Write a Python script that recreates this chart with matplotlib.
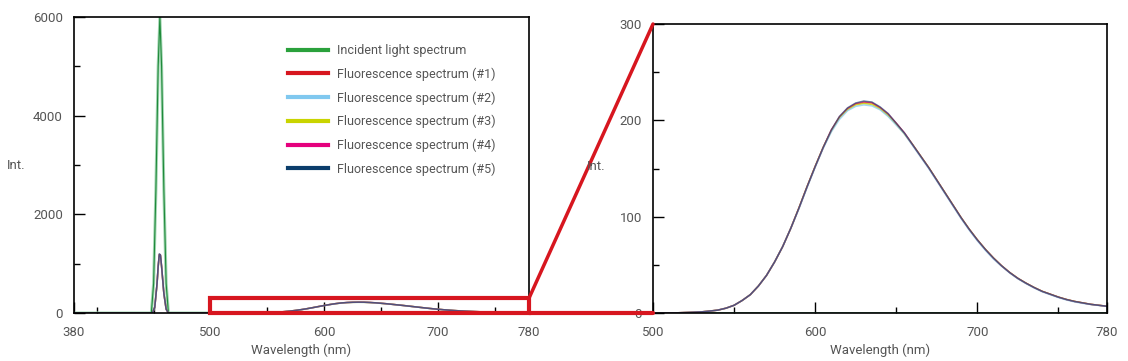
import matplotlib.pyplot as plt
from matplotlib.patches import Rectangle, ConnectionPatch
from matplotlib.ticker import MultipleLocator

plt.rcParams['font.family'] = ['Roboto', 'DejaVu Sans']

# Daten
wl_inc = [380, 440, 448, 450, 452, 454, 455.5, 457, 459, 461, 463, 470, 780]
inc = [0, 0, 0, 600, 2500, 5000, 6000, 5000, 2500, 600, 0, 0, 0]

wl = [380, 440, 447, 449, 451, 453, 454, 455, 456, 457, 459, 461, 463, 470,
      500, 505, 510, 515, 520, 525, 530, 535, 540, 545,
      550, 555, 560, 565, 570, 575, 580, 585, 590, 595,
      600, 605, 610, 615, 620, 625, 630, 635, 640, 645,
      650, 655, 660, 665, 670, 675, 680, 685, 690, 695,
      700, 705, 710, 715, 720, 725, 730, 735, 740, 745,
      750, 755, 760, 765, 770, 775, 780]

fl1 = [0, 0, 0, 0, 115, 590, 940, 1180, 1170, 940, 395, 78, 0, 0,
       0, 0, 0, 0.2, 0.5, 0.8, 1.2, 2, 3, 5,
       8, 13, 19, 28, 39, 53, 69, 88, 109, 131,
       152, 172, 190, 203, 212, 217, 218.5, 218, 213, 206,
       197, 187, 175, 163, 151, 138, 125, 112, 99, 87,
       76, 66, 57, 49, 42, 36, 31, 26.5, 22.5, 19.5,
       16.5, 14, 12, 10.5, 9, 8, 7]
fl2 = [0, 0, 0, 0, 110, 580, 930, 1170, 1160, 930, 390, 75, 0, 0,
       0, 0, 0, 0.2, 0.5, 0.8, 1.2, 2, 3, 5,
       8, 13, 19, 28, 39, 53, 69, 88, 108, 130,
       151, 171, 188, 201, 210, 214.5, 216, 215, 211, 204,
       195, 186, 174, 162, 150, 137, 124, 111, 98, 86,
       75, 65, 56, 48.5, 41.5, 35.5, 30.5, 26, 22, 19,
       16, 13.5, 11.5, 10, 8.8, 7.8, 6.8]
fl3 = [0, 0, 0, 0, 112, 585, 935, 1175, 1165, 935, 392, 76, 0, 0,
       0, 0, 0, 0.2, 0.5, 0.8, 1.2, 2, 3, 5,
       8, 13, 19, 28, 39, 53, 69, 88, 109, 131,
       152, 172, 189, 203, 211, 216, 217.5, 216.5, 212, 205,
       196, 186, 175, 163, 151, 138, 125, 112, 99, 87,
       76, 66, 57, 49, 42, 36, 31, 26.5, 22.5, 19.5,
       16.5, 14, 12, 10.5, 9, 8, 7]
fl4 = [0, 0, 0, 0, 118, 595, 945, 1190, 1175, 945, 398, 79, 0, 0,
       0, 0, 0, 0.2, 0.5, 0.8, 1.2, 2, 3, 5,
       8, 13, 19, 28, 39, 53, 69, 88, 109, 131,
       152, 172, 190, 204, 212.5, 217.5, 219.5, 218.5, 213.5, 207,
       197, 187, 175, 163, 151, 138, 125, 112, 99, 87,
       76, 66, 57, 49, 42, 36, 31, 26.5, 22.5, 19.5,
       16.5, 14, 12, 10.5, 9, 8, 7]
fl5 = [0, 0, 0, 0, 120, 600, 950, 1200, 1180, 950, 400, 80, 0, 0,
       0, 0, 0, 0.2, 0.5, 0.8, 1.2, 2, 3, 5,
       8, 13, 19, 28, 39, 53, 69, 88, 109, 131,
       152, 172, 190, 204, 213, 218, 220, 219, 214, 207,
       197, 187, 175, 163, 151, 138, 125, 112, 99, 87,
       76, 66, 57, 49, 42, 36, 31, 26.5, 22.5, 19.5,
       16.5, 14, 12, 10.5, 9, 8, 7]

labels = ["Fluorescence spectrum (#1)", "Fluorescence spectrum (#2)",
          "Fluorescence spectrum (#3)", "Fluorescence spectrum (#4)",
          "Fluorescence spectrum (#5)"]
colors = ['#d7161f', '#80c8ef', '#c9d400', '#e5007d', '#0b3d6b']
series = [fl1, fl2, fl3, fl4, fl5]
# Zeichenreihenfolge und Deckkraft, damit die Mischfarbe wie im Original wirkt
order = [0, 2, 1, 3, 4]
alphas = [0.7, 0.7, 0.8, 0.45, 0.6]

grey = '#555555'
fig = plt.figure(figsize=(11.28, 3.61), dpi=100)
ax1 = fig.add_axes([74 / 1128, 48 / 361, 455 / 1128, 296 / 361])
ax2 = fig.add_axes([653 / 1128, 48 / 361, 454 / 1128, 289 / 361])


def style(ax):
    ax.tick_params(which='both', direction='in', colors='black', labelcolor=grey,
                   labelsize=9.5, pad=8)
    ax.tick_params(which='major', length=8, width=1)
    ax.tick_params(which='minor', length=4.5, width=1)
    ax.tick_params(axis='x', pad=9)
    for s in ax.spines.values():
        s.set_linewidth(1.2)


def draw_fl(ax):
    for i in order:
        ax.plot(wl, series[i], color=colors[i], lw=1.1, alpha=alphas[i])


# linkes Diagramm
ax1.plot(wl_inc, inc, color='#a3d6b3', lw=2.2)
ax1.plot(wl_inc, inc, color='#1f8a3a', lw=0.8)
draw_fl(ax1)
ax1.set_xlim(380, 780)
ax1.set_ylim(0, 6000)
ax1.set_xticks([380, 500, 600, 700, 780])
ax1.set_xticks([400, 450, 550, 650, 750], minor=True)
ax1.yaxis.set_major_locator(MultipleLocator(2000))
ax1.yaxis.set_minor_locator(MultipleLocator(1000))
style(ax1)
ax1.set_xlabel("Wavelength (nm)", color=grey, fontsize=9.5, labelpad=4)

# Legende mit eigenen Handles
hl = [plt.Line2D([], [], color='#2aa13c', lw=3)]
hl += [plt.Line2D([], [], color=c, lw=3) for c in colors]
ax1.legend(hl, ["Incident light spectrum"] + labels, loc='upper left',
           bbox_to_anchor=(0.46, 0.925), frameon=False, fontsize=9,
           labelcolor=grey, handlelength=3.2, handletextpad=0.7,
           labelspacing=0.82, borderaxespad=0)

# rechtes Diagramm (Ausschnitt)
ax2.plot(wl_inc, inc, color='#3aa060', lw=1)
draw_fl(ax2)
ax2.set_xlim(500, 780)
ax2.set_ylim(0, 300)
ax2.set_xticks([500, 600, 700, 780])
ax2.set_xticks([550, 650, 750], minor=True)
ax2.yaxis.set_major_locator(MultipleLocator(100))
ax2.yaxis.set_minor_locator(MultipleLocator(50))
style(ax2)
ax2.set_xlabel("Wavelength (nm)", color=grey, fontsize=9.5, labelpad=4)

fig.text(7 / 1128, 1 - 165 / 361, "Int.", color=grey, fontsize=9.5, va='center')
fig.text(587 / 1128, 1 - 167 / 361, "Int.", color=grey, fontsize=9.5, va='center')

# Markierung und Verbindungslinien
red = '#d7161f'
ax1.add_patch(Rectangle((500, 0), 280, 300, fill=False, edgecolor=red, lw=3,
                        clip_on=False, zorder=5))
for yv in (300, 0):
    con = ConnectionPatch(xyA=(780, yv), coordsA=ax1.transData,
                          xyB=(500, yv), coordsB=ax2.transData,
                          color=red, lw=3 if yv == 0 else 2.5)
    fig.add_artist(con)

plt.savefig("out.png", dpi=100)
